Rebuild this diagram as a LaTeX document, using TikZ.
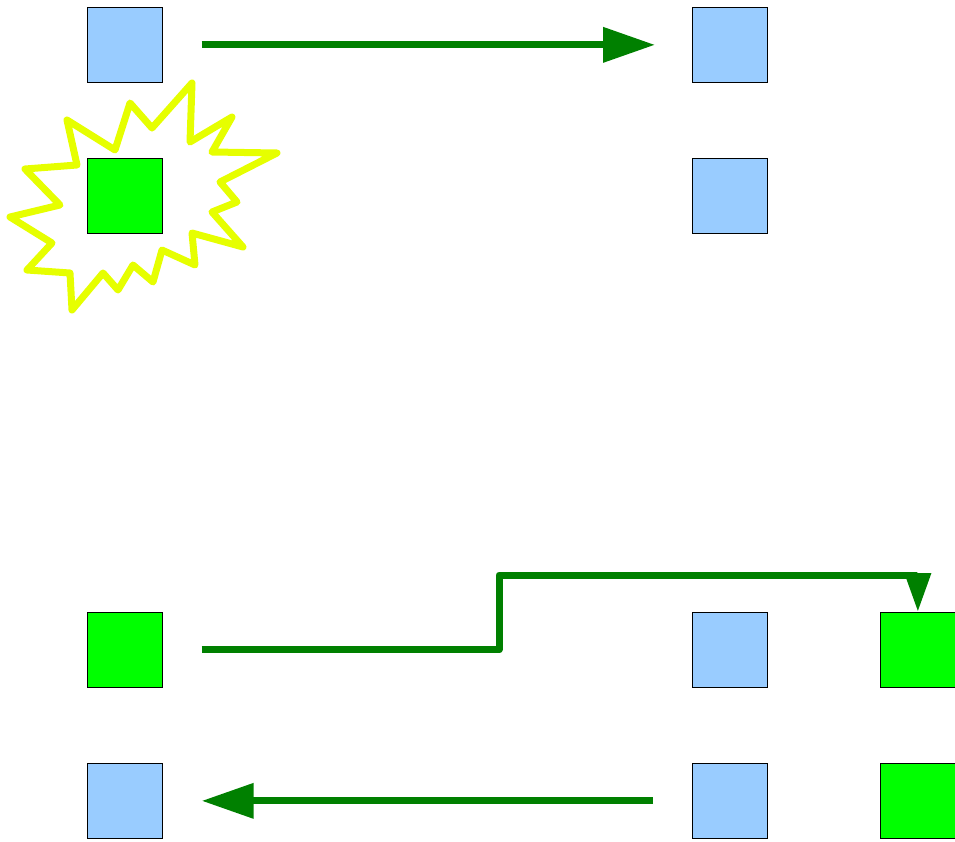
\documentclass[tikz,border=0pt]{standalone}
\usetikzlibrary{arrows.meta}

\definecolor{boxblue}{HTML}{99CCFF}
\definecolor{boxgreen}{HTML}{00FF00}
\definecolor{arrowgreen}{HTML}{008000}
\definecolor{flash}{HTML}{E6FF00}

\begin{document}
\begin{tikzpicture}[x=1pt,y=-1pt,
  cell/.style={draw=black,line width=0.7pt,minimum size=75pt,inner sep=0pt,anchor=north west},
  blue cell/.style={cell,fill=boxblue},
  green cell/.style={cell,fill=boxgreen},
  move/.style={draw=arrowgreen,line width=7pt,-{Triangle[length=52pt,width=34pt]}},
  hop/.style={draw=arrowgreen,line width=7pt,line join=round,-{Triangle[length=39pt,width=25pt]}}]
\useasboundingbox (0,0) rectangle (955,841);
% first step
\node[blue cell] (a1) at (87,7) {};
\node[green cell] (a2) at (87,158) {};
\node[blue cell] (b1) at (692,7) {};
\node[blue cell] (b2) at (692,158) {};
\draw[move] ([xshift=39pt]a1.east) -- ([xshift=-37pt]b1.west);
% the flash round a2
\draw[flash,line width=7pt,line join=round,line cap=round]
  (192,83) -- (190,142) -- (232,117) -- (212,152) -- (277,153) -- (220,182)
  -- (237,202) -- (212,212) -- (243,247) -- (192,233) -- (195,265) -- (162,250)
  -- (153,282) -- (133,265) -- (118,290) -- (103,273) -- (72,310) -- (70,273)
  -- (27,270) -- (52,243) -- (10,217) -- (60,205) -- (25,169) -- (77,165)
  -- (67,120) -- (115,150) -- (130,103) -- (152,128) -- cycle;
% second step
\node[green cell] (c1) at (87,612) {};
\node[blue cell] (c2) at (87,763) {};
\node[blue cell] (d1) at (692,612) {};
\node[blue cell] (d2) at (692,763) {};
\node[green cell] (e1) at (880,612) {};
\node[green cell] (e2) at (880,763) {};
\coordinate (bend) at (499,575);
\draw[hop] ([xshift=39pt]c1.east) -| (bend) -| (e1.north);
\draw[move] ([xshift=-39pt]d2.west) -- ([xshift=39pt]c2.east);
\end{tikzpicture}
\end{document}
